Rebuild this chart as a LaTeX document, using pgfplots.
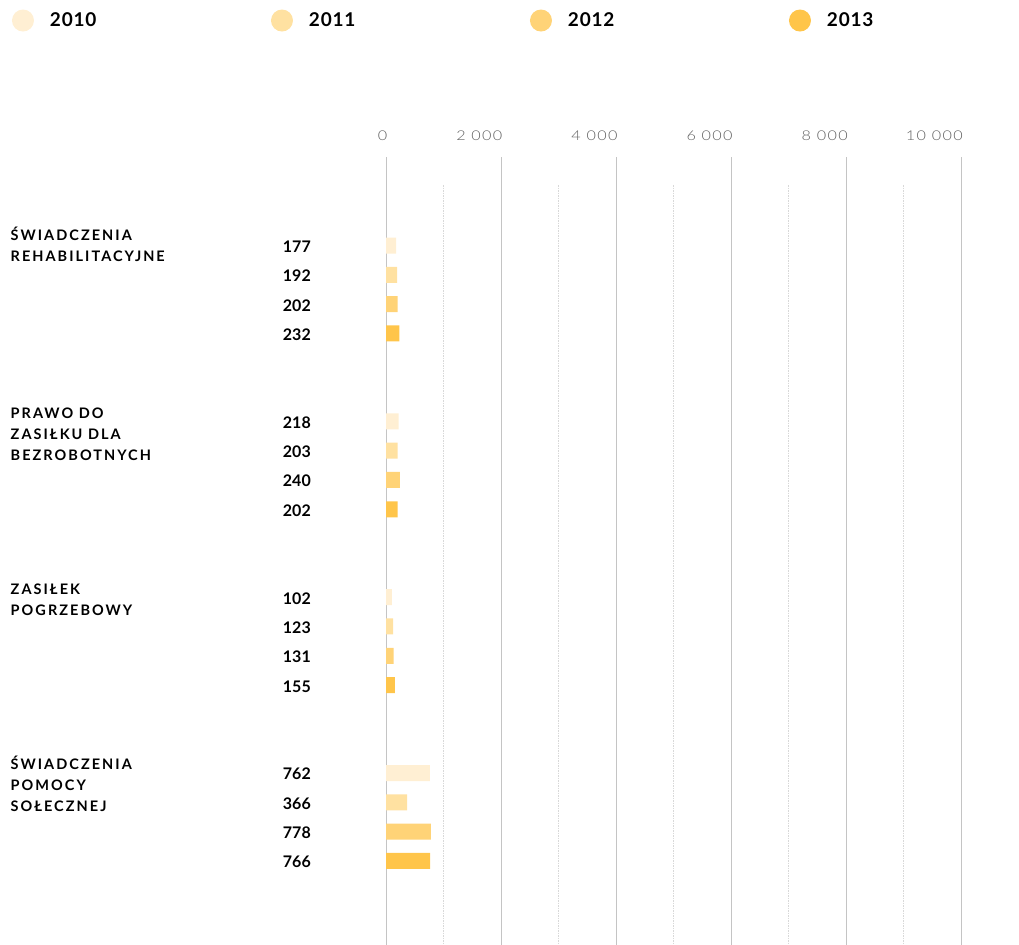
\documentclass[border=0pt]{standalone}
\usepackage{pgfplots}
\pgfplotsset{compat=1.18}
\usepackage{fontspec}
\setmainfont{Lato}
\newfontfamily\catfont[LetterSpace=14]{Lato}
\newfontfamily\legfont[LetterSpace=4]{Lato}
\newfontfamily\tickfont[FakeStretch=1.2,LetterSpace=10]{Lato Light}
\definecolor{c2010}{HTML}{FFEFD3}
\definecolor{c2011}{HTML}{FFE1A1}
\definecolor{c2012}{HTML}{FFD377}
\definecolor{c2013}{HTML}{FFC54A}
\definecolor{gridc}{HTML}{C4C4C4}
\definecolor{minorc}{HTML}{D8D8D8}
\definecolor{tickc}{HTML}{606060}
\begin{document}
\begin{tikzpicture}
\path[use as bounding box] (0,0) rectangle (1019bp,-945bp);
\begin{axis}[
  at={(386bp,-157bp)}, anchor=north west,
  scale only axis, width=633bp, height=788bp,
  xmin=0, xmax=11000, ymin=-3.02, ymax=23.87, y dir=reverse,
  axis line style={draw=none},
  clip=false,
  scaled x ticks=false,
  xtick={0,2000,4000,6000,8000,10000},
  xticklabel pos=upper,
  /pgf/number format/assume math mode=true,
  /pgf/number format/1000 sep={\ },
  x tick label style={anchor=south east, inner sep=0pt, yshift=16bp, xshift=1.5bp, font=\tickfont\fontsize{13.5bp}{15bp}\selectfont, text=tickc},
  xmajorgrids,
  major grid style={gridc, line width=0.9bp},
  major tick length=0pt, minor tick length=0pt,
  ytick={0,1,2,3,6,7,8,9,12,13,14,15,18,19,20,21},
  yticklabels={177,192,202,232,218,203,240,202,102,123,131,155,762,366,778,766},
  y tick label style={anchor=east, inner sep=0pt, xshift=-75bp, yshift=-1.2bp, font=\bfseries\fontsize{16bp}{18bp}\selectfont, text=black},
  legend columns=4,
  legend cell align=left,
  legend style={draw=none, fill=none, inner sep=0pt, outer sep=0pt,
    at={(axis description cs:0,1)}, anchor=north west, xshift=-374bp, yshift=147.5bp,
    font=\legfont\bfseries\fontsize{19bp}{21bp}\selectfont,
    nodes={inner sep=0pt, text width=50bp},
    /tikz/every odd column/.append style={column sep=16bp},
    /tikz/every even column/.append style={column sep=171bp}},
]
\foreach \xx in {1000,3000,5000,7000,9000,11000} {
  \edef\tmp{\noexpand\draw[minorc, line width=0.9bp, dash pattern=on 1.5bp off 1bp] (axis cs:\xx,-2.06) -- (axis cs:\xx,23.87);}
  \tmp
}
\addplot[xbar, bar width=16bp, bar shift=0pt, fill=c2010, draw=none,
  legend image code/.code={\fill[c2010] (11bp,0bp) circle (11bp);}]
  coordinates {(177,0) (218,6) (102,12) (762,18)};
\addlegendentry{2010}
\addplot[xbar, bar width=16bp, bar shift=0pt, fill=c2011, draw=none,
  legend image code/.code={\fill[c2011] (11bp,0bp) circle (11bp);}]
  coordinates {(192,1) (203,7) (123,13) (366,19)};
\addlegendentry{2011}
\addplot[xbar, bar width=16bp, bar shift=0pt, fill=c2012, draw=none,
  legend image code/.code={\fill[c2012] (11bp,0bp) circle (11bp);}]
  coordinates {(202,2) (240,8) (131,14) (778,20)};
\addlegendentry{2012}
\addplot[xbar, bar width=16bp, bar shift=0pt, fill=c2013, draw=none,
  legend image code/.code={\fill[c2013] (11bp,0bp) circle (11bp);}]
  coordinates {(232,3) (202,9) (155,15) (766,21)};
\addlegendentry{2013}
\end{axis}
\begin{scope}[every node/.style={anchor=base west, inner sep=0pt, font=\catfont\bfseries\fontsize{14.5bp}{17bp}\selectfont}]
\node at (10.5bp,-240bp) {ŚWIADCZENIA};
\node at (10.5bp,-261bp) {REHABILITACYJNE};
\node at (10.5bp,-418bp) {PRAWO DO};
\node at (10.5bp,-439bp) {ZASIŁKU DLA};
\node at (10.5bp,-460bp) {BEZROBOTNYCH};
\node at (10.5bp,-594bp) {ZASIŁEK};
\node at (10.5bp,-615bp) {POGRZEBOWY};
\node at (10.5bp,-769bp) {ŚWIADCZENIA};
\node at (10.5bp,-790bp) {POMOCY};
\node at (10.5bp,-811bp) {SOŁECZNEJ};
\end{scope}
\end{tikzpicture}
\end{document}
